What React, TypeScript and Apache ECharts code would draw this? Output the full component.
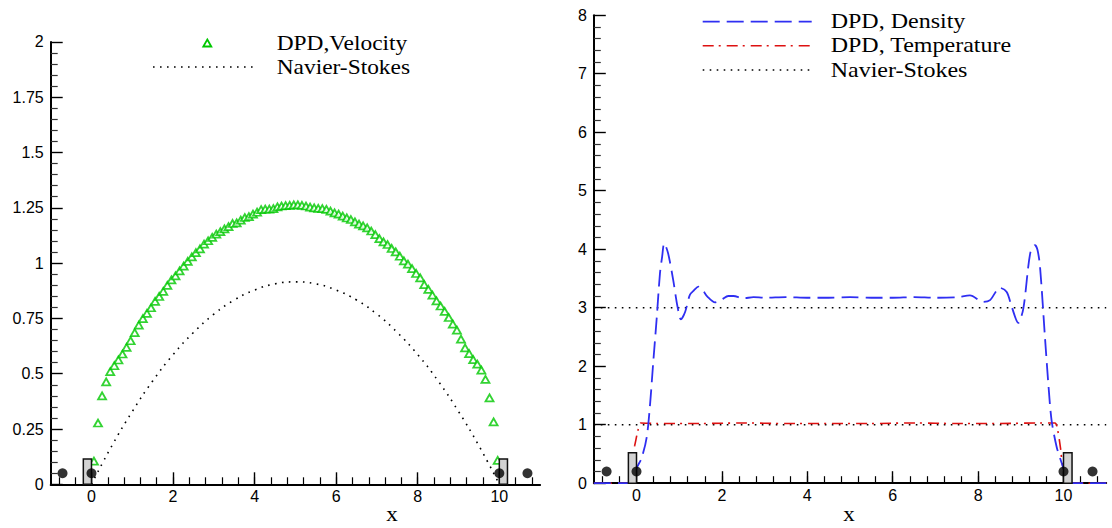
import React, { useEffect, useRef } from "react";
import * as echarts from "echarts";

// ---------- data ----------
const velocityStartX = 0.06;
const velocityStepX = 0.1;
const velocity = [
  0.105, 0.277, 0.4, 0.463, 0.509, 0.536, 0.562, 0.589, 0.619, 0.649,
  0.686, 0.72, 0.749, 0.773, 0.798, 0.827, 0.849, 0.872, 0.899, 0.924,
  0.942, 0.965, 0.986, 1.008, 1.028, 1.047, 1.064, 1.086, 1.101, 1.116,
  1.131, 1.142, 1.155, 1.165, 1.179, 1.182, 1.194, 1.206, 1.21, 1.221,
  1.23, 1.242, 1.244, 1.244, 1.246, 1.254, 1.258, 1.26, 1.261, 1.263,
  1.263, 1.261, 1.258, 1.253, 1.25, 1.247, 1.246, 1.243, 1.235, 1.227,
  1.221, 1.212, 1.204, 1.197, 1.186, 1.176, 1.168, 1.159, 1.145, 1.129,
  1.111, 1.096, 1.084, 1.066, 1.051, 1.031, 1.01, 0.995, 0.975, 0.953,
  0.933, 0.903, 0.881, 0.855, 0.829, 0.806, 0.782, 0.754, 0.724, 0.697,
  0.656, 0.617, 0.591, 0.564, 0.543, 0.516, 0.474, 0.391, 0.282, 0.108,
];
const nsVelX = [0, 0.5, 1, 1.5, 2, 2.5, 3, 3.5, 4, 4.5, 5, 5.5, 6, 6.5, 7, 7.5, 8, 8.5, 9, 9.5, 10];
const nsVelY = [0, 0.174, 0.329, 0.467, 0.586, 0.686, 0.769, 0.833, 0.878, 0.906, 0.915, 0.906, 0.878, 0.833, 0.769, 0.686, 0.586, 0.467, 0.329, 0.174, 0];

const densityX = [
  -1, -0.05, 0.005, 0.12, 0.24, 0.32, 0.39, 0.47, 0.55, 0.6, 0.65, 0.74, 0.86, 0.96, 1.04, 1.14,
  1.25, 1.35, 1.45, 1.55, 1.66, 1.84, 2.0, 2.15, 2.27, 2.5, 2.74, 3.0, 3.5, 4.0, 4.5, 5.0, 5.5,
  6.0, 6.5, 7.0, 7.5, 7.81, 8.12, 8.28, 8.51, 8.67, 8.79, 8.94, 9.06, 9.22, 9.33, 9.39, 9.45,
  9.57, 9.65, 9.72, 9.84, 9.96, 10.01, 10.15, 11,
];
const densityY = [
  0, 0, 0.255, 0.43, 0.79, 1.37, 2.05, 2.79, 3.59, 3.87, 4.1, 3.93, 3.47, 3.02, 2.8, 2.93,
  3.22, 3.3, 3.36, 3.3, 3.19, 3.09, 3.14, 3.2, 3.2, 3.16, 3.18, 3.17, 3.18, 3.17, 3.17, 3.18, 3.17,
  3.17, 3.18, 3.17, 3.18, 3.21, 3.1, 3.13, 3.34, 3.27, 3.01, 2.74, 2.99, 3.93, 4.07, 3.99, 3.7,
  2.45, 1.65, 1.08, 0.62, 0.34, 0.23, 0, 0,
];
const temperatureX = [-1, -0.2, -0.12, -0.04, 0.04, 0.1, 0.5, 1.5, 2.5, 3.5, 4.5, 5.5, 6.5, 7.5, 8.5, 9.5, 9.8, 9.86, 9.93, 9.98, 10.1, 10.2, 11];
const temperatureY = [0, 0, 0.4, 0.65, 0.92, 1.03, 1.02, 1.02, 1.03, 1.02, 1.02, 1.02, 1.03, 1.02, 1.02, 1.03, 1.03, 0.92, 0.6, 0.3, 0.05, 0, 0];
const nsDensity = 3;
const nsTemperature = 1;

// wall markers: [x0, x1, top]
const leftBoxes = [[-0.2, 0, 0.114], [10, 10.2, 0.114]];
const leftDots = [[-0.71, 0.05], [0, 0.05], [10, 0.05], [10.69, 0.05]];
const rightBoxes = [[-0.19, 0, 0.52], [10, 10.2, 0.52]];
const rightDots = [[-0.7, 0.2], [0, 0.2], [10, 0.2], [10.68, 0.2]];

const xLabelValues = [0, 2, 4, 6, 8, 10];
const xMinorValues = [
  -0.8, -0.4, 0, 0.4, 0.8, 1.2, 1.6, 2, 2.4, 2.8, 3.2, 3.6, 4, 4.4, 4.8, 5.2, 5.6, 6, 6.4, 6.8,
  7.2, 7.6, 8, 8.4, 8.8, 9.2, 9.6, 10, 10.4, 10.8,
];

const legendLeft = ["DPD,Velocity", "Navier-Stokes"];
const legendRight = ["DPD, Density", "DPD, Temperature", "Navier-Stokes"];

// ---------- style ----------
const SANS = "'Liberation Sans', Arial, Helvetica, sans-serif";
const SERIF = "'Liberation Serif', 'Times New Roman', serif";
const GREEN = "#00c800";
const BLUE = "#2f2ff2";
const RED = "#dd1111";
const DOT: number[] = [1.6, 5.4];
const DASH: number[] = [17, 7];
const DASHDOT: number[] = [11, 5, 2, 6];

const GRID_L = { left: 50.7, top: 41.9, width: 489.4, height: 442.4 };
const GRID_R = { left: 593.8, top: 15.2, width: 512.4, height: 468 };

function boxSeries(data: number[][], xi: number) {
  return {
    type: "custom",
    xAxisIndex: xi,
    yAxisIndex: xi,
    z: 5,
    encode: { x: [0, 1], y: 2 },
    data,
    renderItem: (_p: any, api: any) => {
      const a = api.coord([api.value(0), api.value(2)]);
      const b = api.coord([api.value(1), 0]);
      return {
        type: "rect",
        shape: { x: a[0], y: a[1], width: b[0] - a[0], height: b[1] - a[1] },
        style: { fill: "#d3d3d3", stroke: "#111", lineWidth: 1.5 },
      };
    },
  };
}

function dotSeries(data: number[][], xi: number) {
  return {
    type: "scatter",
    xAxisIndex: xi,
    yAxisIndex: xi,
    z: 6,
    symbol: "circle",
    symbolSize: 10,
    itemStyle: { color: "#000" },
    data,
  };
}

function mainX(gridIndex: number) {
  return {
    type: "value",
    gridIndex,
    min: -1,
    max: 11,
    axisLine: { show: true, onZero: false, lineStyle: { color: "#000", width: 2 } },
    axisTick: { show: true, inside: true, length: 7, customValues: xMinorValues, lineStyle: { color: "#000", width: 1.2 } },
    axisLabel: { customValues: xLabelValues, fontFamily: SANS, fontSize: 16, color: "#000", margin: 4 },
    splitLine: { show: false },
  };
}
function majorX(gridIndex: number) {
  return {
    type: "value",
    gridIndex,
    min: -1,
    max: 11,
    axisLine: { show: false },
    axisTick: { show: true, inside: true, length: 12, customValues: xLabelValues, lineStyle: { color: "#000", width: 1.4 } },
    axisLabel: { show: false },
    splitLine: { show: false },
  };
}
function mainY(gridIndex: number, max: number, interval: number) {
  return {
    type: "value",
    gridIndex,
    min: 0,
    max,
    interval,
    axisLine: { show: true, onZero: false, lineStyle: { color: "#000", width: 2 } },
    axisTick: { show: true, inside: true, length: 12, lineStyle: { color: "#000", width: 1.4 } },
    minorTick: { show: true, splitNumber: 5, length: 7, lineStyle: { color: "#333", width: 1.2 } },
    axisLabel: { fontFamily: SANS, fontSize: 16, color: "#000", margin: 7 },
    splitLine: { show: false },
    minorSplitLine: { show: false },
  };
}
function hiddenY(gridIndex: number) {
  return { type: "value", gridIndex, min: 0, max: 1, show: false };
}

export default function App() {
  const ref = useRef<HTMLDivElement>(null);
  useEffect(() => {
    if (!ref.current) return;
    const chart = echarts.init(ref.current, undefined, { renderer: "svg" });
    const velData = velocity.map((v, i) => [velocityStartX + velocityStepX * i, v]);
    const nsVelData = nsVelX.map((x, i) => [x, nsVelY[i]]);
    const densData = densityX.map((x, i) => [x, densityY[i]]);
    const tempData = temperatureX.map((x, i) => [x, temperatureY[i]]);

    const legendText = (text: string, x: number, y: number, sx: number) => ({
      type: "text",
      x,
      y,
      scaleX: sx,
      style: { text, fill: "#000", font: `20px ${SERIF}`, verticalAlign: "middle", align: "left" },
    });
    const legendLine = (x1: number, x2: number, y: number, stroke: string, dash: number[], w: number) => ({
      type: "line",
      shape: { x1, y1: y, x2, y2: y },
      style: { stroke, lineWidth: w, lineDash: dash },
    });

    const option: any = {
      animation: false,
      backgroundColor: "#fff",
      grid: [
        { ...GRID_L },
        { ...GRID_R },
        { ...GRID_L },
        { ...GRID_R },
      ],
      xAxis: [mainX(0), mainX(1), majorX(2), majorX(3)],
      yAxis: [mainY(0, 2, 0.25), mainY(1, 8, 1), hiddenY(2), hiddenY(3)],
      series: [
        {
          type: "line",
          name: "Navier-Stokes",
          xAxisIndex: 0,
          yAxisIndex: 0,
          data: nsVelData,
          smooth: true,
          showSymbol: false,
          lineStyle: { color: "#000", width: 1.6, type: DOT },
        },
        {
          type: "scatter",
          name: "DPD,Velocity",
          xAxisIndex: 0,
          yAxisIndex: 0,
          data: velData,
          symbol: "triangle",
          symbolSize: [8, 7],
          itemStyle: { color: "#fff", borderColor: GREEN, borderWidth: 1.8 },
        },
        boxSeries(leftBoxes, 0),
        dotSeries(leftDots, 0),
        {
          type: "line",
          name: "Navier-Stokes density",
          xAxisIndex: 1,
          yAxisIndex: 1,
          data: [[-1, nsDensity], [11, nsDensity]],
          showSymbol: false,
          lineStyle: { color: "#000", width: 1.6, type: DOT },
        },
        {
          type: "line",
          name: "Navier-Stokes temperature",
          xAxisIndex: 1,
          yAxisIndex: 1,
          data: [[-1, nsTemperature], [11, nsTemperature]],
          showSymbol: false,
          lineStyle: { color: "#000", width: 1.6, type: DOT },
        },
        {
          type: "line",
          name: "DPD, Temperature",
          xAxisIndex: 1,
          yAxisIndex: 1,
          data: tempData,
          showSymbol: false,
          smooth: 0.3,
          lineStyle: { color: RED, width: 1.6, type: DASHDOT },
        },
        {
          type: "line",
          name: "DPD, Density",
          xAxisIndex: 1,
          yAxisIndex: 1,
          data: densData,
          showSymbol: false,
          smooth: 0.3,
          lineStyle: { color: BLUE, width: 1.8, type: DASH },
        },
        boxSeries(rightBoxes, 1),
        dotSeries(rightDots, 1),
      ],
      graphic: [
        {
          type: "polygon",
          shape: { points: [[207.3, 39.5], [211.3, 46.5], [203.3, 46.5]] },
          style: { fill: "#fff", stroke: GREEN, lineWidth: 1.8 },
        },
        legendText(legendLeft[0], 276.7, 43.3, 1.17),
        legendLine(153, 257, 67, "#000", DOT, 1.6),
        legendText(legendLeft[1], 276.7, 67.3, 1.17),
        legendLine(702.7, 811.7, 21.7, BLUE, DASH, 1.8),
        legendText(legendRight[0], 830.7, 21.7, 1.2),
        legendLine(702.7, 811.7, 45.7, RED, DASHDOT, 1.6),
        legendText(legendRight[1], 830.7, 45.7, 1.2),
        legendLine(702.7, 811.7, 70, "#000", DOT, 1.6),
        legendText(legendRight[2], 830.7, 70, 1.2),
        {
          type: "text",
          x: 392,
          y: 515,
          scaleX: 1.15,
          style: { text: "x", fill: "#000", font: `20px ${SERIF}`, align: "center", verticalAlign: "middle" },
        },
        {
          type: "text",
          x: 849,
          y: 515,
          scaleX: 1.15,
          style: { text: "x", fill: "#000", font: `20px ${SERIF}`, align: "center", verticalAlign: "middle" },
        },
      ],
    };
    chart.setOption(option);
    return () => chart.dispose();
  }, []);
  return (
    <div
      ref={ref}
      style={{ position: "fixed", left: 0, top: 0, width: 1112, height: 528, background: "#fff" }}
    />
  );
}
